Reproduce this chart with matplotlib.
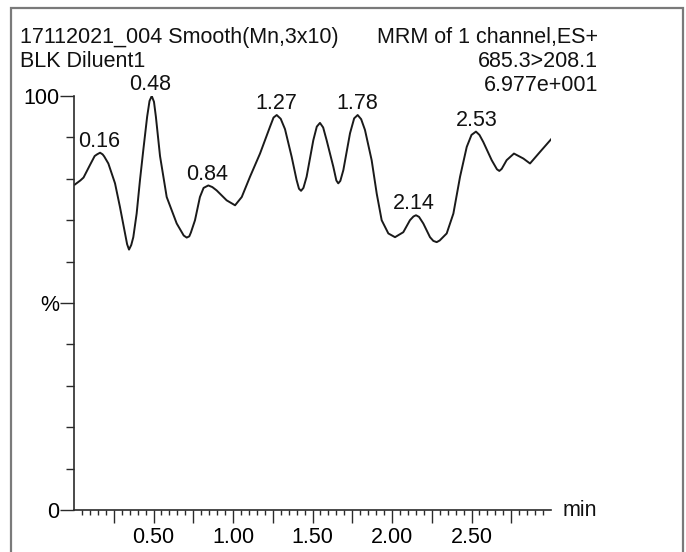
import numpy as np
import matplotlib
matplotlib.use("Agg")
import matplotlib.pyplot as plt
from matplotlib.patches import Rectangle

# ---------------- data ----------------
times = [0.005, 0.04, 0.06, 0.10, 0.13, 0.145, 0.164, 0.18, 0.19, 0.216,
         0.258, 0.289, 0.321, 0.334, 0.346, 0.36, 0.373, 0.394, 0.415, 0.436,
         0.46, 0.475, 0.489, 0.503, 0.515, 0.541, 0.583, 0.646, 0.69, 0.709,
         0.725, 0.735, 0.761, 0.792, 0.815, 0.845, 0.87, 0.897, 0.96, 1.013,
         1.055, 1.107, 1.17, 1.233, 1.255, 1.275, 1.30, 1.327, 1.369, 1.40,
         1.415, 1.428, 1.443, 1.463, 1.505, 1.527, 1.547, 1.567, 1.589, 1.631,
         1.65, 1.662, 1.675, 1.694, 1.736, 1.762, 1.784, 1.806, 1.83, 1.872,
         1.904, 1.935, 1.977, 2.019, 2.071, 2.113, 2.135, 2.151, 2.17, 2.197,
         2.239, 2.26, 2.281, 2.30, 2.344, 2.386, 2.428, 2.47, 2.50, 2.528,
         2.55, 2.574, 2.627, 2.66, 2.675, 2.69, 2.721, 2.767, 2.826, 2.868,
         2.931, 3.004]
intensity = [78.6, 79.6, 80.3, 83.3, 85.5, 85.9, 86.3, 85.9, 85.4, 83.7,
             78.9, 73.2, 66.8, 64.2, 62.9, 64.0, 65.9, 71.6, 79.7, 87.0,
             95.0, 98.8, 100.0, 98.6, 95.0, 85.5, 75.6, 69.2, 66.3, 65.8,
             66.1, 67.0, 70.0, 75.6, 77.8, 78.4, 78.0, 77.2, 74.8, 73.6,
             75.6, 80.5, 86.1, 92.6, 94.8, 95.4, 94.5, 92.0, 85.3, 79.7,
             77.6, 77.1, 77.8, 80.5, 89.3, 92.6, 93.5, 92.4, 89.3, 82.9,
             79.6, 78.9, 79.5, 82.1, 91.0, 94.6, 95.4, 94.4, 91.8, 84.5,
             76.4, 70.0, 66.8, 65.9, 67.1, 70.0, 70.9, 71.2, 70.8, 69.2,
             65.9, 65.0, 64.7, 65.1, 66.8, 71.6, 80.5, 87.7, 90.6, 91.4,
             90.6, 88.9, 84.5, 82.3, 81.9, 82.4, 84.5, 86.1, 84.9, 83.7,
             86.5, 89.7]

peak_times = [0.16, 0.48, 0.84, 1.27, 1.78, 2.14, 2.53]
peak_heights = [86.3, 100.0, 78.4, 95.4, 95.4, 71.2, 91.4]
peak_labels = ["0.16", "0.48", "0.84", "1.27", "1.78", "2.14", "2.53"]

x_tick_labels = ["", "0.50", "", "1.00", "", "1.50", "", "2.00", "", "2.50", ""]
y_tick_values = [0, 50, 100]
y_tick_labels = ["0", "%", "100"]

header_left = ["17112021_004 Smooth(Mn,3x10)", "BLK Diluent1"]
header_right = ["MRM of 1 channel,ES+", "685.3>208.1", "6.977e+001"]
x_unit = "min"

# ---------------- figure ----------------
W, H = 686, 552
plt.rcParams['font.family'] = ['Liberation Sans', 'DejaVu Sans']
FS = 15.5
fig = plt.figure(figsize=(W / 100, H / 100), dpi=100)
fig.patch.set_facecolor('white')

ax = fig.add_axes([74 / W, (H - 510) / H, (551 - 74) / W, (510 - 96) / H])
ax.plot(times, intensity, color='#1a1a1a', lw=1.4, solid_joinstyle='round')
ax.set_xlim(0, 3.0)
ax.set_ylim(0, 100)

for s in ['top', 'right']:
    ax.spines[s].set_visible(False)
for s in ['left', 'bottom']:
    ax.spines[s].set_linewidth(1.2)
    ax.spines[s].set_color('#2a2a2a')

major_x = np.arange(1, 12) * 0.25
minor_x = np.arange(1, 60) * 0.05
ax.set_xticks(major_x, x_tick_labels)
ax.set_xticks(minor_x, minor=True)
ax.set_yticks(y_tick_values, y_tick_labels)
ax.set_yticks(np.arange(1, 10) * 10, minor=True)

ax.tick_params(axis='x', which='major', direction='out', length=9.4, width=1.0,
               color='#2a2a2a', pad=3.0, labelsize=FS)
ax.tick_params(axis='x', which='minor', direction='out', length=3.8, width=1.0,
               color='#2a2a2a')
ax.tick_params(axis='y', which='major', direction='out', length=10, width=1.0,
               color='#2a2a2a', pad=0.6, labelsize=FS)
ax.tick_params(axis='y', which='minor', direction='out', length=5.8, width=1.0,
               color='#2a2a2a')

for t, h, lab in zip(peak_times, peak_heights, peak_labels):
    ax.annotate(lab, xy=(t, h), xytext=(0, 4.2), textcoords='offset points',
                ha='center', va='baseline', fontsize=FS, color='#111111')

def px(x, y):
    return x / W, (H - y) / H

for i, line in enumerate(header_left):
    fig.text(*px(20, 43 + 24 * i), line, ha='left', va='baseline', fontsize=FS,
             color='#111111')
for i, line in enumerate(header_right):
    fig.text(*px(598, 43 + 24 * i), line, ha='right', va='baseline', fontsize=FS,
             color='#111111')
fig.text(*px(563, 516), x_unit, ha='left', va='baseline', fontsize=FS,
         color='#111111')

fig.add_artist(Rectangle((11 / W, -0.05), (683 - 11) / W, (H - 8) / H + 0.05,
                         transform=fig.transFigure, fill=False,
                         edgecolor='#7a7a7a', lw=1.6, clip_on=False))

fig.savefig("out.png", dpi=100)
